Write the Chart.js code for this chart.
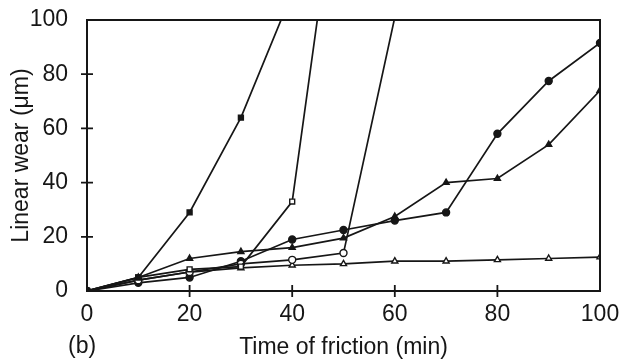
<!DOCTYPE html>
<html>
<head>
<meta charset="utf-8">
<script src="https://cdn.jsdelivr.net/npm/chart.js@4.4.0/dist/chart.umd.min.js"></script>
<style>
  html, body { margin: 0; padding: 0; background: #fff; }
  #wrap { width: 619px; height: 363px; }
</style>
</head>
<body>
<div id="wrap"><canvas id="myChart"></canvas></div>
<script>
// time of friction (min)
const timeAll = [0, 10, 20, 30, 40, 50, 60, 70, 80, 90, 100];

// linear wear (um) per sample; last point of the steep ones runs off the top
const filledSquareX = [0, 10, 20, 30, 40];
const filledSquareY = [0, 5, 29, 64, 110];
const openSquareX = [0, 10, 20, 30, 40, 50];
const openSquareY = [0, 5, 8, 9, 33, 170];
const openCircleX = [0, 10, 20, 30, 40, 50, 60];
const openCircleY = [0, 4, 7, 10, 11.5, 14, 101];
const filledCircleY = [0, 3, 5, 11, 19, 22.5, 26, 29, 58, 77.5, 91.5];
const filledTriangleY = [0, 5, 12, 14.5, 16, 19.5, 27.5, 40, 41.5, 54, 74];
const openTriangleY = [0, 4, 7, 8.5, 9.5, 10, 11, 11, 11.5, 12, 12.5];

const xTicks = [0, 20, 40, 60, 80, 100];
const yTicks = [0, 20, 40, 60, 80, 100];

const ink = '#161616';
const font = "'Liberation Sans', Arial, sans-serif";
const fsize = 23;

function pts(xs, ys) {
    return xs.map((x, i) => ({x: x, y: ys[i]}));
}
// hide markers that sit above the plot
function radii(ys) {
    return ys.map(y => y > 100 ? 0 : 3.5);
}
function series(xs, ys, style, filled) {
    return {
        data: pts(xs, ys),
        borderColor: ink,
        borderWidth: 1.7,
        pointStyle: style,
        pointRadius: radii(ys),
        pointBorderColor: ink,
        pointBorderWidth: 1.4,
        pointBackgroundColor: filled ? ink : '#fff',
        tension: 0
    };
}

const frame = {
    id: 'frame',
    afterDraw(chart) {
        const c = chart.ctx, a = chart.chartArea;
        const xs = chart.scales.x, ys = chart.scales.y;
        c.save();
        c.strokeStyle = ink;
        c.lineWidth = 2;
        c.strokeRect(a.left, a.top, a.right - a.left, a.bottom - a.top);
        c.lineWidth = 1.8;
        c.beginPath();
        xTicks.slice(1, -1).forEach(v => {
            const p = xs.getPixelForValue(v);
            c.moveTo(p, a.bottom - 6);
            c.lineTo(p, a.bottom + 6);
        });
        yTicks.slice(1, -1).forEach(v => {
            const p = ys.getPixelForValue(v);
            c.moveTo(a.left - 6, p);
            c.lineTo(a.left + 6, p);
        });
        c.stroke();
        c.fillStyle = ink;
        c.font = fsize + 'px ' + font;
        c.textAlign = 'left';
        c.textBaseline = 'middle';
        c.fillText('(b)', a.left - 19, a.bottom + 56);
        c.restore();
    }
};

const ctx = document.getElementById('myChart');
new Chart(ctx, {
    type: 'line',
    data: {
        datasets: [
            series(filledSquareX, filledSquareY, 'rect', true),
            series(openSquareX, openSquareY, 'rect', false),
            series(openCircleX, openCircleY, 'circle', false),
            series(timeAll, filledCircleY, 'circle', true),
            series(timeAll, filledTriangleY, 'triangle', true),
            series(timeAll, openTriangleY, 'triangle', false)
        ]
    },
    options: {
        responsive: true,
        maintainAspectRatio: false,
        animation: false,
        layout: { padding: { top: 20, right: 19, left: 8, bottom: 0 } },
        plugins: { legend: { display: false }, tooltip: { enabled: false } },
        scales: {
            x: {
                type: 'linear',
                min: 0, max: 100,
                afterBuildTicks: s => { s.ticks = xTicks.map(v => ({value: v})); },
                afterFit: s => { s.height = 72; s.paddingLeft = 0; s.paddingRight = 0; },
                grid: { display: false, drawTicks: false },
                border: { display: false },
                ticks: { color: ink, font: { size: fsize, family: font }, padding: 10, maxRotation: 0 },
                title: { display: true, text: 'Time of friction (min)', color: ink,
                         font: { size: fsize, family: font }, padding: { top: 4, bottom: 2 } }
            },
            y: {
                min: 0, max: 100,
                afterBuildTicks: s => { s.ticks = yTicks.map(v => ({value: v})); },
                afterFit: s => { s.width = 79; s.paddingTop = 0; s.paddingBottom = 0; },
                grid: { display: false, drawTicks: false },
                border: { display: false },
                ticks: { color: ink, font: { size: fsize, family: font }, padding: 19 },
                title: { display: true, text: 'Linear wear (μm)', color: ink,
                         font: { size: fsize, family: font }, padding: { top: 0, bottom: 4 } }
            }
        }
    },
    plugins: [frame]
});
</script>
</body>
</html>
